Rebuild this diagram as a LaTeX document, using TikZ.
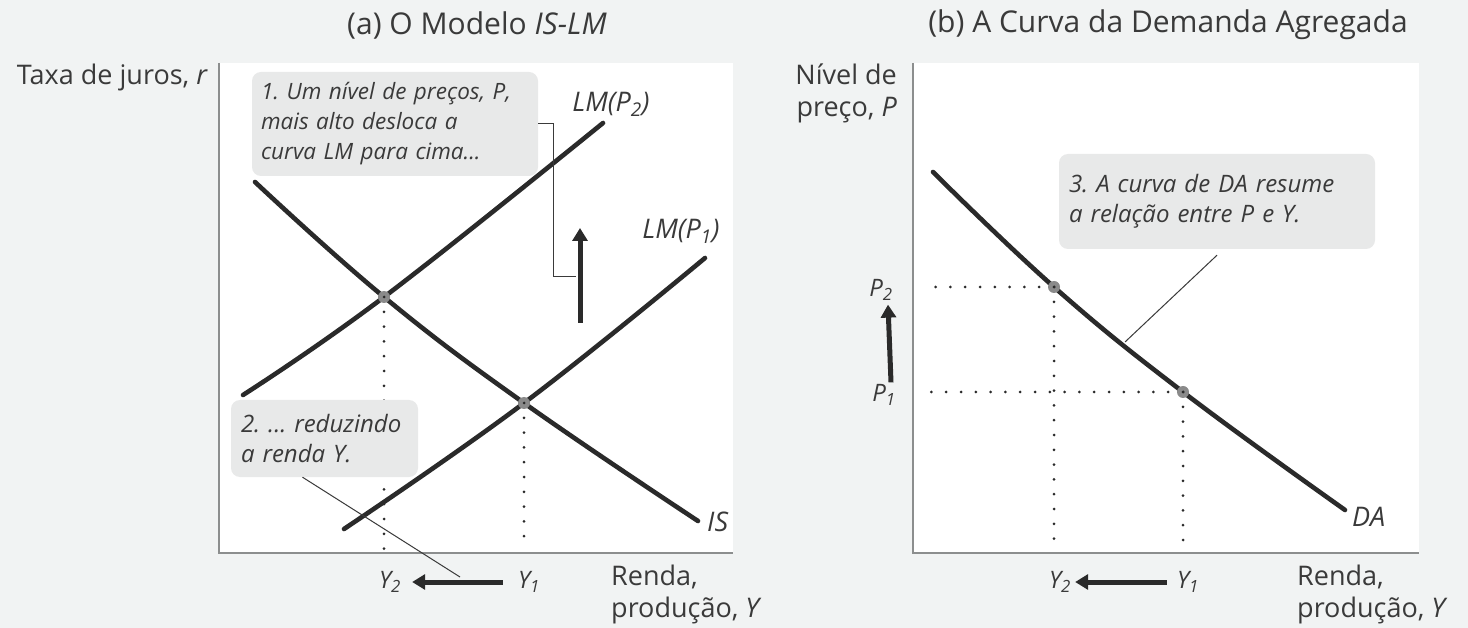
\documentclass[tikz,border=0pt]{standalone}
\usepackage{fontspec}
\setmainfont{Open Sans}
\usetikzlibrary{arrows.meta,positioning}
\definecolor{adPage}{HTML}{F1F3F3}
\definecolor{adInk}{HTML}{2A2A2A}
\definecolor{adText}{HTML}{3A3A3A}
\definecolor{adMuted}{HTML}{8C8E8E}
\definecolor{adBox}{HTML}{E8E9E9}
\definecolor{adDot}{HTML}{8A8A8A}
\tikzset{
  ad plot/.style={fill=white},
  ad axis/.style={draw=adMuted, line width=1.6pt},
  ad curve/.style={draw=adInk, line width=4.6pt, line cap=round},
  ad guide/.style={draw=adInk, line width=3pt, line cap=round, dash pattern=on 0pt off 14.8pt},
  ad leader/.style={draw=adText, line width=1pt},
  ad shift/.style={draw=adInk, line width=5pt, -{Triangle[length=13pt,width=15pt]}},
  ad point/.style={circle, fill=adDot, inner sep=0pt, minimum size=12pt},
  ad note/.style={fill=adBox, rounded corners=9pt, inner xsep=10pt, inner ysep=0pt,
    font=\fontsize{24}{30}\selectfont\itshape, text=adText, align=left},
  ad label/.style={font=\fontsize{27}{32}\selectfont, text=adText, inner sep=0pt},
  ad tick/.style={font=\fontsize{24}{28}\selectfont\itshape, text=adText, inner sep=0pt},
  ad curve label/.style={font=\fontsize{27}{30}\selectfont\itshape, text=adText, inner sep=0pt},
  ad title/.style={font=\fontsize{30}{34}\selectfont, text=adText}
}

\begin{document}
\frenchspacing
\begin{tikzpicture}[x=1pt,y=-1pt]
  \useasboundingbox (0,0) rectangle (1468,628);
  \fill[adPage] (0,0) rectangle (1468,628);

  % (a) IS-LM
  \fill[ad plot] (219,63) rectangle (733,553);
  \draw[ad axis] (219,63) -- (219,553) -- (733,553);
  \node[ad title] (titleA) at (477,25) {(a) O Modelo \textit{IS-LM}};
  \node[ad label, anchor=east] (rateA) at (208,77) {Taxa de juros, \textit{r}};
  \node[ad label, anchor=west, align=left] (incomeA) at (611,594) {Renda,\\produção, \textit{Y}};

  \coordinate (E2) at (384,297);
  \coordinate (E1) at (524,403);
  \draw[ad curve] plot[smooth, tension=0.7] coordinates {(255,182) (E2) (E1) (698,521)};
  \draw[ad curve] plot[smooth, tension=0.7] coordinates {(243,395) (E2) (603,123)};
  \draw[ad curve] plot[smooth, tension=0.7] coordinates {(344,529) (E1) (705,258)};
  \node[ad curve label] (lmTwo) at (611,104) {LM(\textit{P}\textsubscript{2})};
  \node[ad curve label] (lmOne) at (681,231) {LM(\textit{P}\textsubscript{1})};
  \node[ad curve label, anchor=west] (isLab) at (707,522) {IS};

  \node[ad point] (ptE2) at (E2) {};
  \node[ad point] (ptE1) at (E1) {};
  \node[ad tick] (y2A) at (390,582) {Y\textsubscript{2}};
  \node[ad tick] (y1A) at (529,582) {Y\textsubscript{1}};
  \draw[ad guide] (ptE2.center) -- (ptE2.center |- 0,550);
  \draw[ad guide] (ptE1.center) -- (ptE1.center |- 0,550);
  \draw[ad shift, shorten <=15pt, shorten >=11pt] (y1A) -- (y2A);

  \node[ad note, font=\fontsize{22.5}{30}\selectfont\itshape, text width=268pt,
    inner xsep=9pt, minimum height=104pt] (noteOne) at (395,124)
    {1. Um nível de preços, \textit{P},\\mais alto desloca a\\curva LM para cima...};
  \coordinate (shiftLo) at (580,323);
  \coordinate (shiftHi) at (580,228);
  \coordinate (bracketEnd) at (576,277);
  \draw[ad leader] (noteOne.east) -- ++(15,0) |- (bracketEnd);
  \draw[ad shift] (shiftLo) -- (shiftHi);

  \node[ad note, text width=167pt, minimum height=77pt] (noteTwo) at (324.5,438.5)
    {2. ... reduzindo\\a renda \textit{Y}.};
  \coordinate (leadTwo) at (460,577);
  \draw[ad leader] ([xshift=-22pt]noteTwo.south) -- (leadTwo);

  % (b) demanda agregada
  \fill[ad plot] (913,63) rectangle (1419,553);
  \draw[ad axis] (913,63) -- (913,553) -- (1419,553);
  \node[ad title] (titleB) at (1168,25) {(b) A Curva da Demanda Agregada};
  \node[ad label, anchor=east, align=right] (priceB) at (897,93) {Nível de\\preço, \textit{P}};
  \node[ad label, anchor=west, align=left] (incomeB) at (1297,594) {Renda,\\produção, \textit{Y}};

  \coordinate (PtwoY) at (1054,287);
  \coordinate (PoneY) at (1183,392);
  \draw[ad curve] plot[smooth, tension=0.7] coordinates {(933,172) (PtwoY) (PoneY) (1345,510)};
  \node[ad curve label, anchor=west] (daLab) at (1352,517) {DA};

  \node[ad point] (ptP2) at (PtwoY) {};
  \node[ad point] (ptP1) at (PoneY) {};
  \node[ad tick] (p2B) at (881,290) {P\textsubscript{2}};
  \node[ad tick] (p1B) at (884,395) {P\textsubscript{1}};
  \draw[ad guide] (ptP2.center) -- (ptP2.center -| 926,0);
  \draw[ad guide] (ptP1.center) -- (ptP1.center -| 924,0);
  \draw[ad guide] (ptP2.center) -- (ptP2.center |- 0,550);
  \draw[ad guide] (ptP1.center) -- (ptP1.center |- 0,550);
  \draw[ad shift] ([xshift=7pt,yshift=2pt]p1B.north) -- ([xshift=7pt,yshift=-4pt]p2B.south);

  \node[ad tick] (y2B) at (1060,582) {Y\textsubscript{2}};
  \node[ad tick] (y1B) at (1188,582) {Y\textsubscript{1}};
  \draw[ad shift, shorten <=10pt, shorten >=4pt] (y1B) -- (y2B);

  \node[ad note, text width=296pt, minimum height=95pt] (noteThree) at (1217,201.5)
    {3. A curva de DA resume\\a relação entre \textit{P} e \textit{Y}.};
  \coordinate (leadThree) at (1125,342);
  \draw[ad leader] ([yshift=-6pt]noteThree.south) -- (leadThree);
\end{tikzpicture}
\end{document}
